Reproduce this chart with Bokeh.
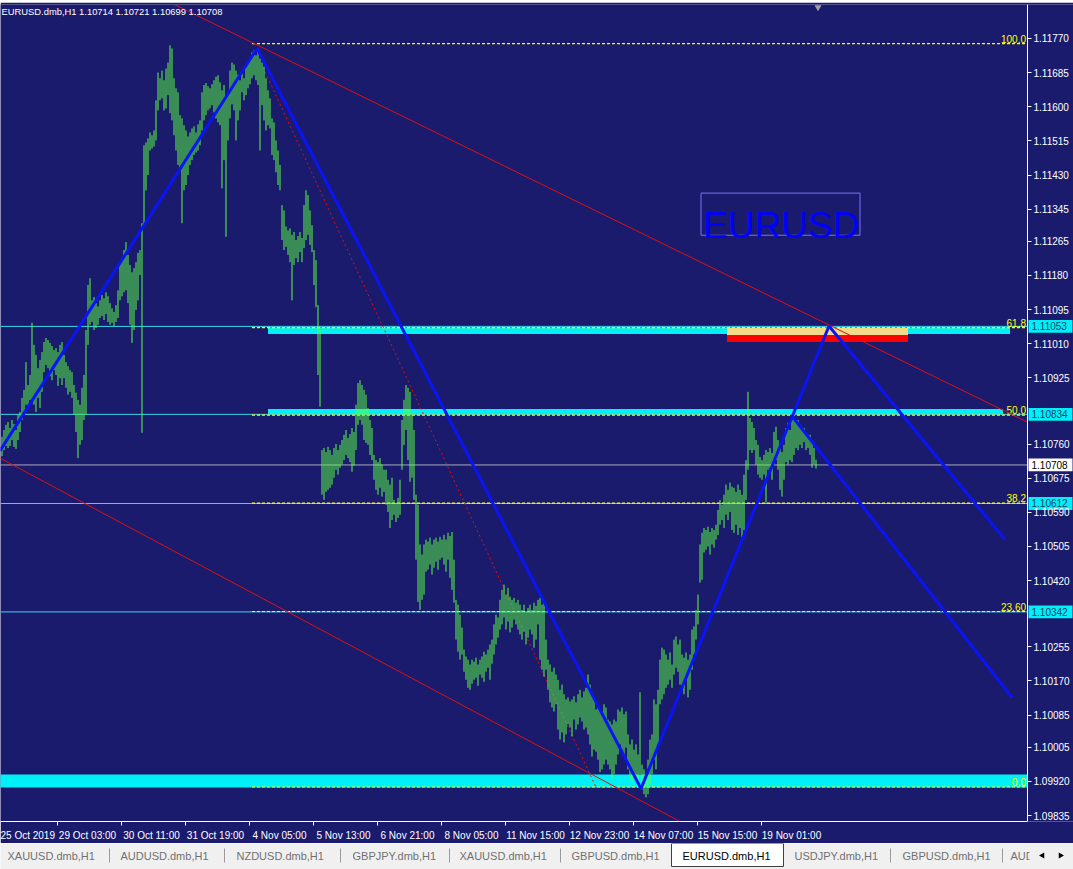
from bokeh.plotting import figure
from bokeh.models import Range1d, FixedTicker, LinearAxis, PrintfTickFormatter
from bokeh.layouts import column
from bokeh.embed import file_html
from bokeh.resources import INLINE
from bokeh.core.properties import value

# ---------------- data ----------------
title_text = "EURUSD.dmb,H1  1.10714 1.10721 1.10699 1.10708"

bar_high = [
1.10778,1.10795,1.10808,1.10815,1.10800,1.10820,1.10810,1.10795,1.10833,1.10840,
1.10875,1.10895,1.10964,1.10907,1.10932,1.11062,1.11007,1.10982,1.10949,1.10969,
1.10989,1.11014,1.11024,1.11019,1.11012,1.11004,1.10994,1.10999,1.10989,1.11007,
1.11014,1.10982,1.10964,1.10954,1.10944,1.10939,1.10907,1.10888,1.10870,1.10858,
1.10900,1.10932,1.11044,1.11156,1.11173,1.11118,1.11126,1.11111,1.11103,1.11118,
1.11131,1.11123,1.11138,1.11128,1.11111,1.11098,1.11089,1.11106,1.11143,1.11213,
1.11223,1.11243,1.11263,1.11231,1.11206,1.11188,1.11198,1.11213,1.11236,1.11243,
1.11310,1.11504,1.11511,1.11521,1.11536,1.11529,1.11541,1.11616,1.11685,1.11671,
1.11690,1.11666,1.11695,1.11710,1.11753,1.11745,1.11671,1.11646,1.11636,1.11579,
1.11571,1.11554,1.11541,1.11526,1.11536,1.11546,1.11551,1.11536,1.11556,1.11566,
1.11636,1.11654,1.11659,1.11651,1.11646,1.11656,1.11666,1.11675,1.11678,1.11661,
1.11641,1.11654,1.11626,1.11636,1.11690,1.11710,1.11705,1.11690,1.11680,1.11666,
1.11685,1.11671,1.11700,1.11710,1.11720,1.11735,1.11740,1.11728,1.11745,1.11720,
1.11710,1.11700,1.11671,1.11641,1.11621,1.11571,1.11561,1.11516,1.11491,1.11455,
1.11355,1.11342,1.11302,1.11292,1.11297,1.11281,1.11288,1.11268,1.11278,1.11288,
1.11273,1.11355,1.11392,1.11380,1.11342,1.11305,1.11243,1.11218,1.11106,1.11044,
1.10745,1.10750,1.10740,1.10753,1.10745,1.10733,1.10750,1.10760,1.10745,1.10758,
1.10770,1.10783,1.10795,1.10775,1.10785,1.10800,1.10790,1.10858,1.10912,1.10919,
1.10907,1.10895,1.10883,1.10850,1.10820,1.10800,1.10733,1.10720,1.10715,1.10725,
1.10709,1.10696,1.10696,1.10671,1.10659,1.10676,1.10621,1.10614,1.10626,1.10671,
1.10820,1.10870,1.10907,1.10900,1.10890,1.10833,1.10795,1.10634,1.10609,1.10510,
1.10485,1.10510,1.10522,1.10517,1.10527,1.10510,1.10522,1.10527,1.10517,1.10529,
1.10522,1.10534,1.10522,1.10539,1.10531,1.10541,1.10472,1.10372,1.10360,1.10335,
1.10303,1.10248,1.10231,1.10223,1.10211,1.10223,1.10218,1.10228,1.10211,1.10223,
1.10231,1.10243,1.10236,1.10248,1.10261,1.10273,1.10311,1.10335,1.10328,1.10372,
1.10397,1.10410,1.10385,1.10402,1.10380,1.10372,1.10377,1.10365,1.10372,1.10360,
1.10347,1.10360,1.10342,1.10352,1.10360,1.10347,1.10365,1.10357,1.10372,1.10377,
1.10360,1.10367,1.10273,1.10223,1.10211,1.10193,1.10203,1.10186,1.10173,1.10148,
1.10161,1.10137,1.10124,1.10129,1.10119,1.10124,1.10132,1.10117,1.10137,1.10148,
1.10129,1.10144,1.10153,1.10186,1.10161,1.10137,1.10124,1.10099,1.10112,1.10094,
1.10087,1.10112,1.10104,1.10074,1.10069,1.10062,1.10074,1.10069,1.10099,1.10094,
1.10104,1.10087,1.10094,1.10037,1.10012,1.10024,1.09999,1.10012,1.09987,1.10142,
1.09962,1.09950,1.09938,1.09974,1.10024,1.10037,1.10124,1.10112,1.10148,1.10223,
1.10253,1.10248,1.10236,1.10223,1.10241,1.10211,1.10273,1.10281,1.10261,1.10273,
1.10236,1.10228,1.10241,1.10223,1.10236,1.10298,1.10306,1.10347,1.10385,1.10510,
1.10539,1.10551,1.10546,1.10554,1.10541,1.10551,1.10546,1.10559,1.10596,1.10621,
1.10609,1.10634,1.10659,1.10646,1.10664,1.10654,1.10651,1.10641,1.10659,1.10646,
1.10634,1.10684,1.10720,1.10890,1.10825,1.10815,1.10800,1.10770,1.10758,1.10728,
1.10720,1.10733,1.10745,1.10740,1.10750,1.10738,1.10790,1.10803,1.10770,1.10750,
1.10740,1.10758,1.10800,1.10813,1.10795,1.10820,1.10825,1.10815,1.10820,1.10808,
1.10795,1.10800,1.10788,1.10783,1.10783,1.10770,1.10750,1.10721]

bar_low = [
1.10730,1.10745,1.10755,1.10750,1.10755,1.10770,1.10753,1.10748,1.10770,1.10790,
1.10820,1.10838,1.10858,1.10850,1.10870,1.10870,1.10858,1.10840,1.10875,1.10850,
1.10890,1.10939,1.10957,1.10949,1.10929,1.10919,1.10944,1.10932,1.10905,1.10924,
1.10907,1.10924,1.10900,1.10883,1.10890,1.10875,1.10833,1.10790,1.10725,1.10758,
1.10770,1.10820,1.10833,1.11007,1.11057,1.11064,1.11044,1.11049,1.11057,1.11074,
1.11079,1.11069,1.11084,1.11064,1.11057,1.11062,1.11054,1.11064,1.11074,1.11118,
1.11128,1.11138,1.11143,1.11111,1.11057,1.11012,1.11044,1.11094,1.11118,1.11181,
1.10788,1.11305,1.11392,1.11430,1.11491,1.11496,1.11501,1.11516,1.11591,1.11616,
1.11621,1.11591,1.11596,1.11629,1.11584,1.11566,1.11529,1.11491,1.11455,1.11442,
1.11310,1.11392,1.11405,1.11430,1.11455,1.11467,1.11480,1.11486,1.11491,1.11504,
1.11541,1.11566,1.11579,1.11591,1.11596,1.11604,1.11586,1.11571,1.11561,1.11554,
1.11397,1.11467,1.11276,1.11516,1.11571,1.11606,1.11591,1.11516,1.11566,1.11591,
1.11636,1.11616,1.11629,1.11646,1.11656,1.11671,1.11678,1.11666,1.11654,1.11491,
1.11604,1.11566,1.11541,1.11554,1.11546,1.11480,1.11467,1.11437,1.11405,1.11392,
1.11268,1.11243,1.11251,1.11231,1.11213,1.11118,1.11206,1.11223,1.11213,1.11238,
1.11213,1.11248,1.11268,1.11281,1.11256,1.11238,1.11156,1.11101,1.10932,1.10853,
1.10634,1.10621,1.10641,1.10646,1.10651,1.10659,1.10676,1.10696,1.10684,1.10701,
1.10709,1.10720,1.10733,1.10725,1.10715,1.10691,1.10706,1.10745,1.10808,1.10820,
1.10808,1.10770,1.10763,1.10758,1.10733,1.10720,1.10671,1.10646,1.10634,1.10651,
1.10629,1.10641,1.10609,1.10591,1.10551,1.10571,1.10584,1.10566,1.10576,1.10584,
1.10696,1.10758,1.10795,1.10720,1.10666,1.10676,1.10621,1.10472,1.10367,1.10347,
1.10372,1.10385,1.10442,1.10447,1.10460,1.10435,1.10452,1.10467,1.10447,1.10472,
1.10477,1.10460,1.10442,1.10472,1.10427,1.10397,1.10365,1.10273,1.10243,1.10223,
1.10236,1.10193,1.10173,1.10153,1.10148,1.10163,1.10173,1.10178,1.10158,1.10186,
1.10178,1.10168,1.10193,1.10203,1.10173,1.10213,1.10236,1.10261,1.10278,1.10298,
1.10311,1.10328,1.10298,1.10318,1.10291,1.10303,1.10323,1.10311,1.10298,1.10286,
1.10273,1.10293,1.10261,1.10278,1.10298,1.10286,1.10253,1.10273,1.10311,1.10223,
1.10198,1.10181,1.10198,1.10148,1.10117,1.10104,1.10094,1.10112,1.10049,1.10024,
1.10042,1.10017,1.10037,1.10062,1.10054,1.10032,1.10074,1.10049,1.10062,1.10079,
1.10069,1.10049,1.10054,1.10037,1.10012,1.09982,1.09999,1.09994,1.09974,1.09943,
1.09950,1.09962,1.09974,1.09962,1.09950,1.09925,1.09938,1.09962,1.09987,1.10012,
1.09999,1.09982,1.10004,1.09950,1.09925,1.09918,1.09930,1.09920,1.09913,1.09938,
1.09900,1.09888,1.09880,1.09888,1.09913,1.09938,1.09974,1.09950,1.10012,1.10112,
1.10124,1.10137,1.10153,1.10161,1.10173,1.10153,1.10186,1.10203,1.10193,1.10161,
1.10148,1.10137,1.10173,1.10129,1.10148,1.10198,1.10236,1.10273,1.10311,1.10415,
1.10422,1.10490,1.10497,1.10505,1.10485,1.10510,1.10502,1.10522,1.10534,1.10559,
1.10571,1.10551,1.10584,1.10571,1.10591,1.10546,1.10539,1.10559,1.10534,1.10551,
1.10529,1.10546,1.10621,1.10696,1.10745,1.10738,1.10745,1.10709,1.10684,1.10676,
1.10671,1.10684,1.10614,1.10696,1.10701,1.10671,1.10709,1.10720,1.10696,1.10646,
1.10629,1.10671,1.10715,1.10709,1.10720,1.10715,1.10733,1.10750,1.10745,1.10758,
1.10750,1.10765,1.10745,1.10750,1.10733,1.10701,1.10709,1.10699]

bar_index = list(range(len(bar_high)))

# time axis: bar index of each label and the label text
time_tick_bars = [-4, 28, 60, 92, 124, 156, 188, 220, 252, 284, 316, 348, 380]
time_tick_labels = ["25 Oct 2019", "29 Oct 03:00", "30 Oct 11:00", "31 Oct 19:00",
                    "4 Nov 05:00", "5 Nov 13:00", "6 Nov 21:00", "8 Nov 05:00",
                    "11 Nov 15:00", "12 Nov 23:00", "14 Nov 07:00", "15 Nov 15:00",
                    "19 Nov 01:00"]

price_ticks = [1.11770, 1.11685, 1.11600, 1.11515, 1.11430, 1.11345, 1.11265,
               1.11180, 1.11095, 1.11010, 1.10925, 1.10760, 1.10675, 1.10590,
               1.10505, 1.10420, 1.10255, 1.10170, 1.10085, 1.10005, 1.09920,
               1.09835]

level_prices = [1.11053, 1.10834, 1.10612, 1.10342]   # horizontal lines
bid_price = 1.10708

fib_labels = ["100.0", "61.8", "50.0", "38.2", "23.60", "0.0"]
fib_prices = [1.11757, 1.11050, 1.10832, 1.10613, 1.10343, 1.09906]
fib_start_bar = 125.25

# zones (bar from, bar to, price low, price high)
zone_left = [133.25, 133.25, -0.75]
zone_right = [504.25, 500.75, 512.75]
zone_bottom = [1.11034, 1.10835, 1.09905]
zone_top = [1.11051, 1.10847, 1.09937]

box_left, box_right = 362.75, 453.25
box_yellow = (1.11031, 1.11049)
box_red = (1.11014, 1.11031)

# trend lines: (bar0, price0, bar1, price1)
red_lines = [(86.75, 1.11854, 512.75, 1.10815), (-0.75, 1.10725, 339.25, 1.09820)]
red_dotted = [(130.75, 1.11698, 297.75, 1.09900)]
blue_lines = [(-0.75, 1.10743, 127.75, 1.11745), (127.75, 1.11745, 319.75, 1.09902),
              (319.75, 1.09902, 413.75, 1.11054), (413.75, 1.11054, 501.75, 1.10522),
              (395.25, 1.10830, 505.25, 1.10129)]

text_box = (349.75, 429.25, 1.11280, 1.11385)
text_anchor = (350.75, 1.11305)

tab_names = ["XAUUSD.dmb,H1", "AUDUSD.dmb,H1", "NZDUSD.dmb,H1", "GBPJPY.dmb,H1",
             "XAUUSD.dmb,H1", "GBPUSD.dmb,H1", "EURUSD.dmb,H1", "USDJPY.dmb,H1",
             "GBPUSD.dmb,H1", "AUD"]
active_tab = 6

# ---------------- styles / layout constants ----------------
BG = "#1B1B6E"
GREEN = "#5AFF40"
CYAN = "#00F0F8"
CYAN_LINE = "#3CD8E8"
YELLOW = "#FFFF00"
RED = "#E01010"
BLUE = "#0A14F5"
FONT = "Liberation Sans"

X0, X_AXIS, X_END = -0.5, 513.0, 536.0      # frame spans whole window width, axis at 1027 px
BOX_L, BOX_R, BOX_HALF = 513.5, 535.5, 0.00016
HIDDEN = 60                                   # width of the (off-window) axis panel
BAR_SHIFT = 0.25

p = figure(width=1073 + HIDDEN, height=841,
           x_range=Range1d(X0, X_END), y_range=Range1d(1.098201, 1.118546),
           output_backend="svg", toolbar_location=None, y_axis_location=None,
           min_border_left=0, min_border_right=HIDDEN, min_border_top=2, min_border_bottom=21,
           background_fill_color=BG, border_fill_color=BG, outline_line_color=None)
p.grid.visible = False

# x axis: label centres shifted right so text starts just after the tick
label_shift = 15
p.xaxis.ticker = FixedTicker(ticks=[b + label_shift for b in time_tick_bars],
                             minor_ticks=time_tick_bars)
p.xaxis.major_label_overrides = {b + label_shift: t for b, t in zip(time_tick_bars, time_tick_labels)}
p.xaxis.bounds = (X0, X_AXIS)
p.xaxis.major_tick_line_color = None
p.xaxis.minor_tick_line_color = "white"
p.xaxis.minor_tick_out = 4
p.xaxis.minor_tick_in = 0
p.xaxis.axis_line_color = "white"
p.xaxis.major_label_text_color = "white"
p.xaxis.major_label_text_font = FONT
p.xaxis.major_label_text_font_size = "10px"
p.xaxis.major_label_standoff = 2

# price axis drawn at a fixed location inside the frame
yax = LinearAxis(fixed_location=X_AXIS, ticker=FixedTicker(ticks=price_ticks),
                 formatter=PrintfTickFormatter(format="%.5f"))
yax.axis_line_color = "white"
yax.major_tick_line_color = "white"
yax.major_tick_out = 4
yax.major_tick_in = 0
yax.minor_tick_line_color = None
yax.major_label_text_color = "white"
yax.major_label_text_font = FONT
yax.major_label_text_font_size = "10px"
yax.major_label_standoff = 2
p.add_layout(yax, "right")

# zones
p.quad(left=zone_left, right=zone_right, bottom=zone_bottom, top=zone_top,
       fill_color=CYAN, line_color=None)
p.quad(left=[box_left], right=[box_right], bottom=[box_yellow[0]], top=[box_yellow[1]],
       fill_color="#F2D98C", line_color=None)
p.quad(left=[box_left], right=[box_right], bottom=[box_red[0]], top=[box_red[1]],
       fill_color="#FF0000", line_color=None)

# horizontal lines
n_lv = len(level_prices)
p.segment(x0=[X0] * n_lv, x1=[X_AXIS] * n_lv, y0=level_prices, y1=level_prices,
          line_color=CYAN_LINE, line_width=1)
p.segment(x0=[X0], x1=[X_AXIS], y0=[bid_price], y1=[bid_price],
          line_color="#A8A8B8", line_width=1)

# fibonacci
n_fb = len(fib_prices)
p.segment(x0=[fib_start_bar] * n_fb, x1=[X_AXIS - 0.25] * n_fb,
          y0=fib_prices, y1=fib_prices, line_color=YELLOW, line_dash="3 2", line_width=1.2)
p.text(x=[X_AXIS - 0.75] * n_fb, y=fib_prices, text=fib_labels, text_align="right",
       text_baseline="bottom", text_color=YELLOW, text_font=value(FONT),
       text_font_size="10px", y_offset=-1)

# red lines
p.segment(x0=[l[0] for l in red_lines], y0=[l[1] for l in red_lines],
          x1=[l[2] for l in red_lines], y1=[l[3] for l in red_lines],
          line_color=RED, line_width=1)
p.segment(x0=[l[0] for l in red_dotted], y0=[l[1] for l in red_dotted],
          x1=[l[2] for l in red_dotted], y1=[l[3] for l in red_dotted],
          line_color=RED, line_width=1, line_dash="2 3")

# bars
bar_x = [i + BAR_SHIFT for i in bar_index]
p.segment(x0=bar_x, x1=bar_x, y0=bar_low, y1=bar_high,
          line_color=GREEN, line_width=1)

# blue lines
p.segment(x0=[l[0] for l in blue_lines], y0=[l[1] for l in blue_lines],
          x1=[l[2] for l in blue_lines], y1=[l[3] for l in blue_lines],
          line_color=BLUE, line_width=3)

# text object
p.quad(left=[text_box[0]], right=[text_box[1]], bottom=[text_box[2]], top=[text_box[3]],
       fill_color=None, line_color="#7474F4", line_width=1)
p.text(x=[text_anchor[0]], y=[text_anchor[1]], text=["EURUSD"], text_color="#0000FF",
       text_font=value(FONT), text_font_size="37px", text_baseline="alphabetic")

# chart shift marker
p.scatter(x=[408.25], y=[1.11848], marker="inverted_triangle", size=7,
          fill_color="#A0A0A8", line_color=None)

# title
p.text(x=[0.0], y=[1.11837], text=[title_text], text_color="white",
       text_font=value(FONT), text_font_size="9.4px", text_baseline="middle")

# price boxes beside the price axis
box_prices = level_prices + [bid_price]
box_fill = [CYAN] * n_lv + ["#FFFFFF"]
box_text_color = ["#10406A"] * n_lv + ["#000000"]
p.quad(left=[BOX_L] * len(box_prices), right=[BOX_R] * len(box_prices),
       bottom=[v - BOX_HALF for v in box_prices], top=[v + BOX_HALF for v in box_prices],
       fill_color=box_fill, line_color=None)
p.text(x=[BOX_L + 1.5] * len(box_prices), y=box_prices,
       text=[f"{v:.5f}" for v in box_prices], text_color=box_text_color,
       text_font=value(FONT), text_font_size="10px", text_baseline="middle")

# ---------------- window strip and tab bar ----------------
# same width / right border as the chart so that the column keeps frames aligned
strip = figure(width=1073 + HIDDEN, height=2, x_range=Range1d(0, 1), y_range=Range1d(0, 1),
               output_backend="svg", toolbar_location=None,
               min_border_left=0, min_border_right=HIDDEN, min_border_top=0, min_border_bottom=0,
               x_axis_location=None, y_axis_location=None,
               background_fill_color="#D4D4DC", border_fill_color="#D4D4DC",
               outline_line_color=None)
strip.grid.visible = False

t = figure(width=1073 + HIDDEN, height=26, x_range=Range1d(0, 1073), y_range=Range1d(0, 26),
           output_backend="svg", toolbar_location=None,
           min_border_left=0, min_border_right=HIDDEN, min_border_top=0, min_border_bottom=0,
           x_axis_location=None, y_axis_location=None,
           background_fill_color="#F0F0F0", border_fill_color="#F0F0F0",
           outline_line_color=None)
t.grid.visible = False
tab_x = [7, 120, 236, 352, 459, 571, 682, 794, 902, 1010]
sep_x = [109, 224, 340, 449, 560, 890, 1002]
t.quad(left=[671], right=[783], bottom=[3], top=[26], fill_color="white",
       line_color="#404040", line_width=1)
t.segment(x0=sep_x, x1=sep_x, y0=[7] * len(sep_x), y1=[21] * len(sep_x),
          line_color="#9A9A9A", line_width=1)
t.text(x=[tab_x[i] for i in range(len(tab_names)) if i != active_tab],
       y=[14] * (len(tab_names) - 1),
       text=[tab_names[i] for i in range(len(tab_names)) if i != active_tab],
       text_color="#707070", text_font=value(FONT), text_font_size="11px",
       text_baseline="middle")
t.text(x=[tab_x[active_tab]], y=[14], text=[tab_names[active_tab]],
       text_color="#000000", text_font=value(FONT), text_font_size="11px",
       text_baseline="middle")
t.quad(left=[1029], right=[1073], bottom=[0], top=[26], fill_color="#F0F0F0", line_color=None)
t.scatter(x=[1042, 1060], y=[14, 14], marker="triangle", angle=[1.5708, -1.5708],
          size=6, fill_color="#000000", line_color=None)

layout = column(strip, p, t, spacing=0)
html = file_html(layout, INLINE)
html = html.replace("<head>", "<head><style>html,body{margin:0;padding:0;overflow:hidden;}</style>", 1)
open("out.html", "w").write(html)
